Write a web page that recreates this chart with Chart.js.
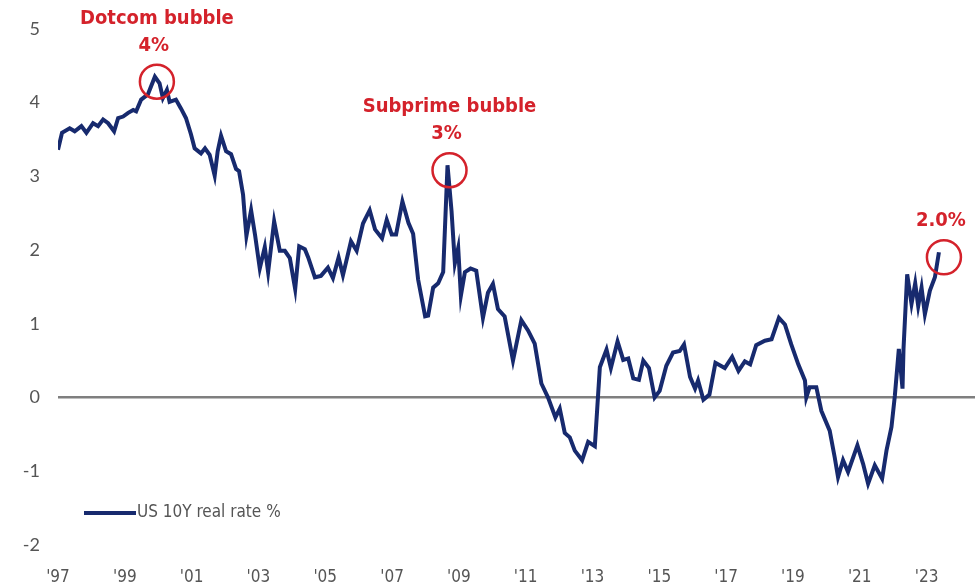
<!DOCTYPE html>
<html>
<head>
<meta charset="utf-8">
<title>US 10Y real rate</title>
<script src="https://cdn.jsdelivr.net/npm/chart.js@4.4.1/dist/chart.umd.min.js"></script>
<style>
  body { margin: 0; background: #fff; }
  canvas { display: block; }
</style>
</head>
<body>
<canvas id="realRate" width="975" height="587"></canvas>
<script>
// US 10Y real rate %, read as decimal years
var years = [
  1997.00, 1997.12, 1997.35, 1997.50, 1997.70, 1997.85, 1998.05, 1998.20, 1998.35, 1998.50,
  1998.68, 1998.80, 1998.95, 1999.10, 1999.25, 1999.34, 1999.49, 1999.69, 1999.90, 2000.04,
  2000.14, 2000.26, 2000.34, 2000.53, 2000.68, 2000.83, 2000.98, 2001.09, 2001.28, 2001.40,
  2001.54, 2001.69, 2001.78, 2001.88, 2002.03, 2002.18, 2002.33, 2002.42, 2002.54, 2002.60,
  2002.64, 2002.78, 2002.90, 2003.04, 2003.19, 2003.29, 2003.47, 2003.64, 2003.79, 2003.94,
  2004.10, 2004.22, 2004.39, 2004.49, 2004.69, 2004.87, 2005.08, 2005.23, 2005.40, 2005.53,
  2005.77, 2005.94, 2006.13, 2006.33, 2006.49, 2006.70, 2006.84, 2006.99, 2007.12, 2007.31,
  2007.49, 2007.63, 2007.78, 2007.99, 2008.08, 2008.23, 2008.38, 2008.53, 2008.66, 2008.78,
  2008.88, 2008.98, 2009.06, 2009.18, 2009.35, 2009.52, 2009.72, 2009.87, 2010.02, 2010.17,
  2010.37, 2010.62, 2010.87, 2011.07, 2011.27, 2011.47, 2011.67, 2011.89, 2012.02, 2012.17,
  2012.32, 2012.47, 2012.69, 2012.87, 2013.07, 2013.22, 2013.42, 2013.55, 2013.75, 2013.92,
  2014.07, 2014.22, 2014.39, 2014.52, 2014.69, 2014.86, 2015.01, 2015.21, 2015.41, 2015.61,
  2015.74, 2015.92, 2016.07, 2016.16, 2016.32, 2016.50, 2016.68, 2016.96, 2017.18, 2017.37,
  2017.56, 2017.72, 2017.90, 2018.16, 2018.36, 2018.58, 2018.76, 2018.95, 2019.16, 2019.36,
  2019.40, 2019.50, 2019.70, 2019.85, 2020.10, 2020.25, 2020.35, 2020.50, 2020.65, 2020.93,
  2021.10, 2021.25, 2021.45, 2021.67, 2021.80, 2021.95, 2022.05, 2022.17, 2022.28, 2022.31,
  2022.42, 2022.55, 2022.66, 2022.75, 2022.85, 2022.95, 2023.10, 2023.25, 2023.37
];
var realRate = [
  3.36, 3.59, 3.65, 3.61, 3.68, 3.59, 3.72, 3.68, 3.77, 3.72,
  3.61, 3.79, 3.81, 3.86, 3.90, 3.88, 4.04, 4.11, 4.35, 4.26,
  4.06, 4.17, 4.01, 4.04, 3.92, 3.79, 3.57, 3.38, 3.31, 3.38,
  3.29, 3.01, 3.34, 3.55, 3.34, 3.30, 3.10, 3.07, 2.75, 2.40,
  2.19, 2.54, 2.20, 1.75, 2.04, 1.70, 2.39, 1.99, 1.99, 1.89,
  1.47, 2.05, 2.01, 1.90, 1.63, 1.65, 1.76, 1.62, 1.90, 1.66,
  2.12, 1.99, 2.36, 2.54, 2.28, 2.16, 2.41, 2.21, 2.21, 2.66,
  2.37, 2.22, 1.60, 1.10, 1.11, 1.49, 1.55, 1.70, 3.15, 2.53,
  1.82, 2.03, 1.38, 1.70, 1.75, 1.72, 1.08, 1.42, 1.54, 1.20,
  1.10, 0.50, 1.05, 0.91, 0.73, 0.19, 0.00, -0.27, -0.15, -0.48,
  -0.54, -0.72, -0.85, -0.60, -0.66, 0.41, 0.65, 0.40, 0.76, 0.51,
  0.53, 0.26, 0.24, 0.50, 0.40, 0.00, 0.09, 0.43, 0.61, 0.63,
  0.72, 0.28, 0.12, 0.23, -0.03, 0.04, 0.47, 0.40, 0.55, 0.36,
  0.49, 0.45, 0.71, 0.77, 0.79, 1.08, 0.99, 0.72, 0.45, 0.23,
  0.00, 0.14, 0.14, -0.18, -0.45, -0.81, -1.08, -0.85, -1.01, -0.65,
  -0.90, -1.17, -0.92, -1.10, -0.72, -0.40, 0.02, 0.66, 0.12, 0.66,
  1.67, 1.27, 1.55, 1.24, 1.49, 1.13, 1.45, 1.63, 1.97
];

var xTickYears = [1997, 1999, 2001, 2003, 2005, 2007, 2009, 2011, 2013, 2015, 2017, 2019, 2021, 2023];
var xTickLabels = ["'97", "'99", "'01", "'03", "'05", "'07", "'09", "'11", "'13", "'15", "'17", "'19", "'21", "'23"];
var yTicks = [-2, -1, 0, 1, 2, 3, 4, 5];

// circled peaks with their red captions
var calloutYears = [1999.90, 2008.66, 2023.37];
var calloutTitles = ['Dotcom bubble', 'Subprime bubble', ''];
var calloutValues = ['4%', '3%', '2.0%'];

var navy = '#172a6e';
var red = '#d4222b';
var narrow = '"Liberation Sans Narrow", "DejaVu Sans Condensed", sans-serif';

var points = years.map(function(y, i) { return { x: y, y: realRate[i] }; });

var callouts = {
    id: 'callouts',
    afterDatasetsDraw: function(chart) {
        var ctx = chart.ctx;
        var meta = chart.getDatasetMeta(0);
        var area = chart.chartArea;
        ctx.save();
        calloutYears.forEach(function(yr, k) {
            var idx = years.indexOf(yr);
            var pt = meta.data[idx];
            var cx = pt.x + (k === 2 ? 5 : 2);
            var cy = pt.y + 5;
            ctx.beginPath();
            ctx.arc(cx, cy, 17, 0, Math.PI * 2);
            ctx.strokeStyle = red;
            ctx.lineWidth = 2.5;
            ctx.stroke();

            ctx.fillStyle = red;
            ctx.textAlign = 'center';
            ctx.textBaseline = 'middle';
            ctx.font = 'bold 20px ' + narrow;
            var ty = cy - 17 - 19;
            ctx.fillText(calloutValues[k], cx - 3, ty);
            if (calloutTitles[k]) {
                ctx.fillText(calloutTitles[k], cx, ty - 27);
            }
        });

        // legend sits inside the plot, lower left
        var lx = area.left + 26, ly = area.bottom - 32;
        ctx.beginPath();
        ctx.moveTo(lx, ly);
        ctx.lineTo(lx + 52, ly);
        ctx.strokeStyle = navy;
        ctx.lineWidth = 4;
        ctx.stroke();
        ctx.fillStyle = '#555';
        ctx.font = '17px ' + narrow;
        ctx.textAlign = 'left';
        ctx.textBaseline = 'middle';
        ctx.fillText('US 10Y real rate %', lx + 53, ly);
        ctx.restore();
    }
};

new Chart(document.getElementById('realRate').getContext('2d'), {
    type: 'line',
    data: {
        datasets: [{
            label: 'US 10Y real rate %',
            data: points,
            borderColor: navy,
            borderWidth: 4,
            pointRadius: 0,
            tension: 0,
            fill: false
        }]
    },
    options: {
        responsive: false,
        animation: false,
        layout: { padding: { top: 27, right: 0, bottom: 0, left: 0 } },
        plugins: {
            legend: { display: false },
            tooltip: { enabled: false }
        },
        scales: {
            x: {
                type: 'linear',
                min: 1997,
                max: 2024.45,
                afterBuildTicks: function(scale) {
                    scale.ticks = xTickYears.map(function(v) { return { value: v }; });
                },
                afterFit: function(scale) { scale.height = 42; },
                grid: { display: false },
                border: { display: false },
                ticks: {
                    padding: 14,
                    maxRotation: 0,
                    autoSkip: false,
                    color: '#555',
                    font: { family: narrow, size: 17 },
                    callback: function(v) { return xTickLabels[xTickYears.indexOf(v)]; }
                }
            },
            y: {
                min: -2,
                max: 5,
                afterBuildTicks: function(scale) {
                    scale.ticks = yTicks.map(function(v) { return { value: v }; });
                },
                afterFit: function(scale) { scale.width = 58; },
                border: { display: false },
                grid: {
                    drawTicks: false,
                    lineWidth: 2.5,
                    color: function(c) { return c.tick && c.tick.value === 0 ? '#7f7f7f' : 'rgba(0,0,0,0)'; }
                },
                ticks: {
                    padding: 18,
                    color: '#555',
                    font: { family: 'Lato', size: 18 }
                }
            }
        }
    },
    plugins: [callouts]
});
</script>
</body>
</html>
